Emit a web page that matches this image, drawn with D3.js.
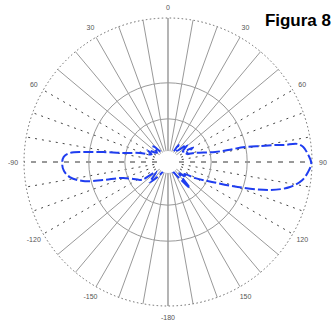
<!DOCTYPE html>
<html>
<head>
<meta charset="utf-8">
<script src="https://cdn.jsdelivr.net/npm/d3@7"></script>
<style>
  html, body { margin: 0; padding: 0; background: #fff; }
  svg { display: block; }
</style>
</head>
<body>
<svg id="chart" width="332" height="323"></svg>
<script>
// Luminous intensity distribution (relative %, angle in degrees, 0 = up, clockwise)
const curveAngles = [
  -180, -160, -145, -138, -130, -125, -122.7, -109.6, -105.5, -102.6, -98.7, -95, -91,
  -87.2, -84.8, -83.3, -81.3, -78.7, -72.2, -65, -60, -50, -43, -35, -20,
  0, 20, 32, 38, 48, 55, 60, 66, 71.6, 78, 78.7, 79, 80.3, 81, 81.7, 82, 83.7, 87.1,
  90.4, 94.1, 97.7, 101.6, 105.3, 109.7, 114.4, 120.6, 126, 130, 135, 140, 146, 160, 180
];
const curveValues = [
  5.5, 6, 12.5, 19, 10.5, 21, 23, 33, 47, 60.5, 69, 72.5, 73.5,
  72.5, 68.5, 59.5, 45.5, 32, 20.5, 12.5, 16.5, 10, 15, 8.5, 5.5,
  5, 5.5, 14, 10, 18, 12.5, 20, 14, 20, 33.5, 42.5, 54.5, 66, 75, 82, 90.5, 94.5, 97.5,
  99.5, 97.5, 94, 86.5, 73.5, 51.5, 33.5, 22, 14, 16.5, 11, 23.5, 12.5, 6, 5.5
];

// Grid definition
const maxValue = 100;
const ringValues = [30, 55];
const spokeAngles = d3.range(0, 360, 10);
const labelAngles = [0, 30, 60, 90, 120, 150, 180, -150, -120, -90, -60, -30];
const labelTexts  = ["0", "30", "60", "90", "120", "150", "-180", "-150", "-120", "-90", "60", "30"];

const svg = d3.select("#chart");
const cx = 168, cy = 162, R = 144;
const g = svg.append("g").attr("transform", `translate(${cx},${cy})`);

const r = d3.scaleLinear().domain([0, maxValue]).range([0, R]);
const rad = d => d * Math.PI / 180;

// Spokes: solid near the vertical axis, dotted towards the horizontal, dashed horizontal
spokeAngles.forEach(a => {
  const m = a % 180;
  const d = Math.min(m, 180 - m);
  const x2 = r(maxValue) * Math.sin(rad(a));
  const y2 = -r(maxValue) * Math.cos(rad(a));
  const line = g.append("line")
    .attr("x1", 0).attr("y1", 0).attr("x2", x2).attr("y2", y2);
  if (d === 90) {
    line.attr("stroke", "#333").attr("stroke-width", 1).attr("stroke-dasharray", "5,6");
  } else if (d >= 60) {
    line.attr("stroke", "#444").attr("stroke-width", 1).attr("stroke-dasharray", "2,5");
  } else if (d === 0) {
    line.attr("stroke", "#777").attr("stroke-width", 1.1);
  } else {
    line.attr("stroke", "#999").attr("stroke-width", 1);
  }
});

// Inner rings
g.selectAll("circle.ring")
  .data(ringValues)
  .join("circle")
  .attr("class", "ring")
  .attr("r", d => r(d))
  .attr("fill", "none")
  .attr("stroke", "#999")
  .attr("stroke-width", 1);

// Outer ring (dotted)
g.append("circle")
  .attr("r", r(maxValue))
  .attr("fill", "none")
  .attr("stroke", "#666")
  .attr("stroke-width", 1)
  .attr("stroke-dasharray", "1.5,2.5");

// Angle labels
g.selectAll("text.angle")
  .data(labelAngles)
  .join("text")
  .attr("class", "angle")
  .attr("x", (d) => (R + 11) * Math.sin(rad(d)))
  .attr("y", (d) => -(R + 11) * Math.cos(rad(d)))
  .attr("text-anchor", "middle")
  .attr("dominant-baseline", "central")
  .attr("font-family", "Liberation Sans, Arial, sans-serif")
  .attr("font-size", 7)
  .attr("fill", "#555")
  .text((d, i) => labelTexts[i]);

// Intensity curve
const pts = curveAngles.map((a, i) => [rad(a), r(curveValues[i])]);
const radial = d3.lineRadial()
  .angle(d => d[0])
  .radius(d => d[1])
  .curve(d3.curveCatmullRom.alpha(0.5));

g.append("path")
  .attr("d", radial(pts))
  .attr("fill", "none")
  .attr("stroke", "#1f3df0")
  .attr("stroke-width", 2)
  .attr("stroke-dasharray", "10,3");

// Central hub
g.append("circle")
  .attr("r", 11)
  .attr("fill", "#fff");

// Title
svg.append("text")
  .attr("x", 331)
  .attr("y", 26)
  .attr("text-anchor", "end")
  .attr("font-family", "Liberation Sans, Arial, sans-serif")
  .attr("font-weight", "bold")
  .attr("font-size", 17)
  .attr("fill", "#000")
  .text("Figura 8");
</script>
</body>
</html>
